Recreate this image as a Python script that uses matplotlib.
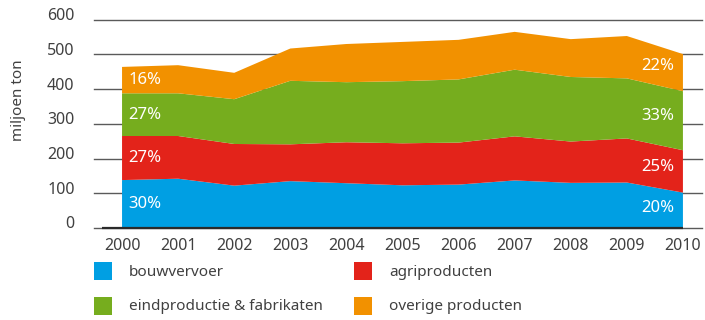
import matplotlib.pyplot as plt
import numpy as np
from matplotlib.patches import Rectangle
from matplotlib.transforms import ScaledTranslation

# ================== vervoerd gewicht per goederengroep (miljoen ton) ==================
jaren = [2000, 2001, 2002, 2003, 2004, 2005, 2006, 2007, 2008, 2009, 2010]
bouwvervoer = [138, 142, 122, 135, 129, 123, 125, 137, 130, 131, 102]
agriproducten = [127, 123, 120, 106, 118, 121, 121, 127, 119, 127, 122]
eindproductie = [123, 123, 129, 183, 173, 179, 182, 192, 186, 173, 170]
overige = [76, 81, 76, 93, 110, 113, 114, 109, 109, 122, 107]

namen = ["bouwvervoer", "agriproducten", "eindproductie & fabrikaten", "overige producten"]
kleuren = ["#009fe3", "#e3231a", "#76ad1e", "#f29100"]

# aandeel per groep in het eerste en laatste jaar
aandeel_2000 = [30, 27, 27, 16]
aandeel_2010 = [20, 25, 33, 22]

yticks = [0, 100, 200, 300, 400, 500, 600]
# ================== einde data ==================

plt.rcParams["font.family"] = ["Noto Sans", "DejaVu Sans"]
TEKST = "#404040"

W, H = 705, 320
fig = plt.figure(figsize=(W / 100, H / 100), dpi=100)


def fx(px):
    return px / W


def fy(py):
    return 1 - py / H


ax = fig.add_axes([fx(94), fy(228), fx(702) - fx(94), fy(19.7) - fy(228)])

lagen = [bouwvervoer, agriproducten, eindproductie, overige]
ax.stackplot(jaren, *lagen, colors=kleuren, linewidth=0, zorder=2)

ax.set_xlim(1999.5, 2010.34)
ax.set_ylim(0, 600)
ax.set_xticks(jaren)
ax.set_yticks(yticks)
ax.yaxis.grid(True, color="#5a5a5a", linewidth=1)
ax.set_axisbelow(True)
for line in ax.get_ygridlines():
    line.set_clip_on(False)
ax.hlines(0, 1999.64, 2010, color="#2a2a2a", linewidth=1.6, zorder=3, clip_on=False)

for s in ax.spines.values():
    s.set_visible(False)
ax.tick_params(axis="both", length=0, labelsize=11.5, colors=TEKST)
ax.tick_params(axis="x", pad=7)
ax.tick_params(axis="y", pad=14)
for lab in ax.get_yticklabels():
    lab.set_transform(lab.get_transform() + ScaledTranslation(0, 4 / 72, fig.dpi_scale_trans))

fig.text(fx(19), fy(100), "miljoen ton", rotation=90, ha="center", va="center",
         fontsize=11, color=TEKST)

# percentages midden in elke laag, aan begin en eind
cum = np.cumsum(np.array(lagen), axis=0)
onder = np.vstack([np.zeros(len(jaren)), cum[:-1]])
x_begin, x_eind = 2000.0, 2009.58
for i in range(len(lagen)):
    y0 = (np.interp(x_begin, jaren, onder[i]) + np.interp(x_begin, jaren, cum[i])) / 2
    y1 = (np.interp(x_eind, jaren, onder[i]) + np.interp(x_eind, jaren, cum[i])) / 2
    ax.text(2000.11, y0, f"{aandeel_2000[i]}%", ha="left", va="center",
            color="white", fontsize=12, zorder=4)
    ax.text(2009.84, y1, f"{aandeel_2010[i]}%", ha="right", va="center",
            color="white", fontsize=12, zorder=4)

# legenda: twee kolommen, twee rijen
posities = [(94, 262), (354, 262), (94, 297), (354, 297)]
for (px, py), naam, kleur in zip(posities, namen, kleuren):
    fig.patches.append(Rectangle((fx(px), fy(py + 18)), fx(18), 18 / H,
                                 transform=fig.transFigure, facecolor=kleur,
                                 edgecolor="none"))
    fig.text(fx(px + 35), fy(py + 10), naam, ha="left", va="center",
             fontsize=11, color=TEKST)

fig.savefig("out.png", dpi=100)
